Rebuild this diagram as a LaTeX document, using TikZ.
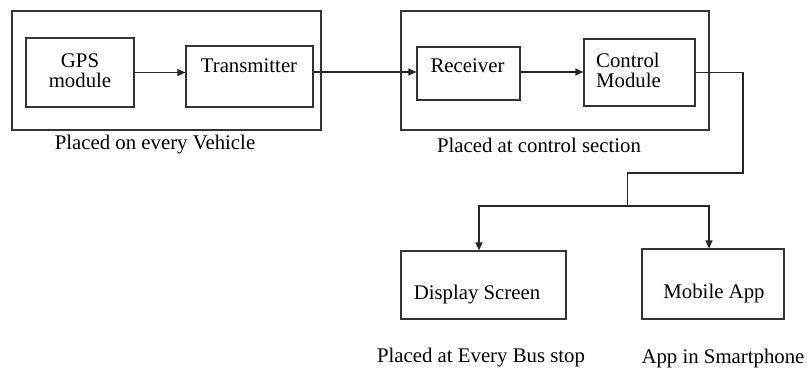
\documentclass[tikz,border=0pt]{standalone}
\usepackage{fontspec}
\setmainfont{Liberation Serif}
\usetikzlibrary{arrows.meta,calc}
\begin{document}
\begin{tikzpicture}[x=1pt,y=-1pt,
  box/.style={draw=black!80, line width=1.2pt, inner sep=0pt, minimum width=#1},
  txt/.style={font=\fontsize{20.8}{23}\selectfont, inner sep=0pt, align=center},
  conn/.style={draw=black!85, line width=1.2pt},
  arr/.style={conn, -{Triangle[length=8pt,width=7pt]}}]
\useasboundingbox (0,0) rectangle (807,372);
% group boxes
\node[box=309pt, minimum height=119pt] (g1) at (166.5,70.5) {};
\node[box=308pt, minimum height=119pt] (g2) at (555,70.5) {};
% blocks
\node[box=108pt, minimum height=69pt] (gps) at (80,72.5) {};
\node[box=127pt, minimum height=61pt] (tx) at (249.5,76.5) {};
\node[box=103pt, minimum height=53pt] (rx) at (468.5,73.5) {};
\node[box=111pt, minimum height=67pt] (ctl) at (639.5,72.5) {};
\node[box=165pt, minimum height=68pt] (disp) at (483.5,285) {};
\node[box=142pt, minimum height=70pt] (mob) at (713,284) {};
% texts
\node[txt] (tgps) at (80,71) {GPS\\[-3pt]module};
\node[txt] (ttx) at (249,66) {Transmitter};
\node[txt] (trx) at (467.5,66) {Receiver};
\node[txt, align=left, anchor=west] (tctl) at (596,70) {Control\\[-3pt]Module};
\node[txt] (tdisp) at (477,295) {Display Screen};
\node[txt] (tmob) at (714,293) {Mobile App};
\node[txt] (l1) at (155,145) {Placed on every Vehicle};
\node[txt] (l2) at (539,145) {Placed at control section};
\node[txt] (l3) at (481,358) {Placed at Every Bus stop};
\node[txt] (l4) at (723,358) {App in Smartphone};
% connectors
\draw[arr] (gps.east) -- (gps.east -| tx.west);
\draw[arr] (tx.east |- 0,72) -- (rx.west |- 0,72);
\draw[arr] (rx.east |- 0,72) -- (ctl.west |- 0,72);
\coordinate (c1) at (743,173);
\coordinate (j) at (627.5,206);
\draw[conn] (ctl.east) -| (c1) -- (c1 -| j) -- (j);
\draw[arr] (j) -| ($(disp.north)+(-4.5,0)$);
\draw[arr] (j) -| ($(mob.north)+(-4,0)$);
\end{tikzpicture}
\end{document}
